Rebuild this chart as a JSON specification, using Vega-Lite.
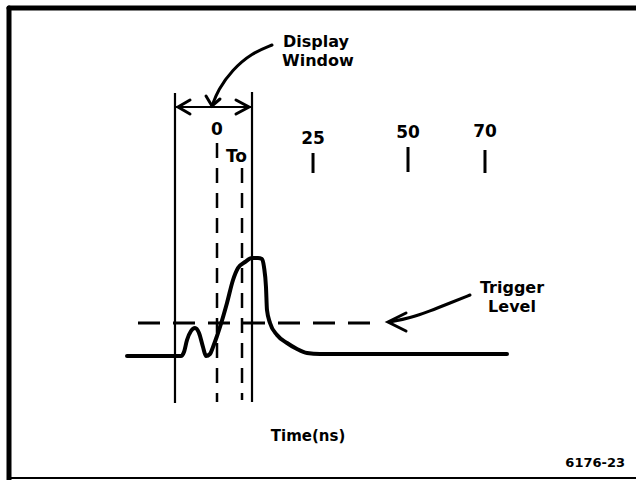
{
  "$schema": "https://vega.github.io/schema/vega-lite/v6.json",
  "width": 636,
  "height": 480,
  "autosize": {"type": "none"},
  "padding": 0,
  "background": "white",
  "config": {"view": {"stroke": null}, "text": {"font": "DejaVu Sans", "fontWeight": "bold", "color": "black"}},
  "datasets": {
    "signal": [
      {"t": -23.5, "a": 0}, {"t": -10.97, "a": 0}, {"t": -9.4, "a": 0}, {"t": -8.62, "a": 0.04},
      {"t": -7.83, "a": 0.16}, {"t": -6.79, "a": 0.25}, {"t": -5.74, "a": 0.28}, {"t": -4.7, "a": 0.23},
      {"t": -3.66, "a": 0.09}, {"t": -2.87, "a": 0}, {"t": -1.83, "a": 0.02}, {"t": -1.04, "a": 0.09},
      {"t": 0, "a": 0.2}, {"t": 0.78, "a": 0.29}, {"t": 2.61, "a": 0.53}, {"t": 4.18, "a": 0.76},
      {"t": 5.48, "a": 0.88}, {"t": 7.31, "a": 0.94}, {"t": 9.14, "a": 0.98}, {"t": 10.7, "a": 0.98},
      {"t": 11.75, "a": 0.97}, {"t": 12.27, "a": 0.89}, {"t": 12.79, "a": 0.69}, {"t": 13.05, "a": 0.46},
      {"t": 13.84, "a": 0.33}, {"t": 15.67, "a": 0.21}, {"t": 18.28, "a": 0.13}, {"t": 20.89, "a": 0.07},
      {"t": 23.5, "a": 0.03}, {"t": 26.89, "a": 0.02}, {"t": 75.72, "a": 0.02}
    ],
    "frameThick": [
      {"t": -54.31, "a": 3.48, "t2": -54.31, "a2": -1.24},
      {"t": -54.31, "a": 3.48, "t2": 109.4, "a2": 3.48}
    ],
    "frameThin": [
      {"t": -54.31, "a": -1.22, "t2": 109.4, "a2": -1.22}
    ],
    "windowEdges": [
      {"t": -10.97, "a": 2.63, "t2": -10.97, "a2": -0.47},
      {"t": 9.14, "a": 2.64, "t2": 9.14, "a2": -0.46},
      {"t": -10.97, "a": 2.49, "t2": 9.14, "a2": 2.49}
    ],
    "dashedLines": [
      {"t": 0, "a": 2.13, "t2": 0, "a2": -0.46},
      {"t": 6.53, "a": 1.88, "t2": 6.53, "a2": -0.44}
    ],
    "trigger": [
      {"t": -20.63, "a": 0.33, "t2": 41.78, "a2": 0.33}
    ],
    "ticks": [
      {"t": 25.07, "a": 2.03, "t2": 25.07, "a2": 1.83},
      {"t": 49.87, "a": 2.09, "t2": 49.87, "a2": 1.84},
      {"t": 69.97, "a": 2.06, "t2": 69.97, "a2": 1.83}
    ],
    "arrows": [
      {"part": "left head", "i": 1, "t": -7.05, "a": 2.56},
      {"part": "left head", "i": 2, "t": -10.18, "a": 2.49},
      {"part": "left head", "i": 3, "t": -7.05, "a": 2.42},
      {"part": "right head", "i": 1, "t": 4.96, "a": 2.56},
      {"part": "right head", "i": 2, "t": 8.36, "a": 2.49},
      {"part": "right head", "i": 3, "t": 4.96, "a": 2.42},
      {"part": "display head", "i": 1, "t": -2.87, "a": 2.6},
      {"part": "display head", "i": 2, "t": -1.31, "a": 2.5},
      {"part": "display head", "i": 3, "t": 0.78, "a": 2.57},
      {"part": "trigger head", "i": 1, "t": 49.35, "a": 0.43},
      {"part": "trigger head", "i": 2, "t": 44.65, "a": 0.34},
      {"part": "trigger head", "i": 3, "t": 49.35, "a": 0.25}
    ],
    "curves": [
      {"part": "display", "i": 1, "t": 14.36, "a": 3.11},
      {"part": "display", "i": 2, "t": 9.14, "a": 3.03},
      {"part": "display", "i": 3, "t": 3.92, "a": 2.86},
      {"part": "display", "i": 4, "t": 0.26, "a": 2.66},
      {"part": "display", "i": 5, "t": -1.31, "a": 2.5},
      {"part": "trigger", "i": 1, "t": 66.06, "a": 0.61},
      {"part": "trigger", "i": 2, "t": 60.84, "a": 0.53},
      {"part": "trigger", "i": 3, "t": 55.61, "a": 0.45},
      {"part": "trigger", "i": 4, "t": 50.39, "a": 0.38},
      {"part": "trigger", "i": 5, "t": 45.17, "a": 0.34}
    ],
    "labelsLeft": [
      {"label": "Display", "t": 17.23, "a": 3.14},
      {"label": "Window", "t": 16.97, "a": 2.95}
    ],
    "labelsNumbers": [
      {"label": "0", "t": 0, "a": 2.26},
      {"label": "To", "t": 5.1, "a": 1.99},
      {"label": "25", "t": 25.07, "a": 2.17},
      {"label": "50", "t": 49.87, "a": 2.23},
      {"label": "70", "t": 69.97, "a": 2.24}
    ],
    "labelsCenter": [
      {"label": "Trigger", "t": 77.02, "a": 0.68},
      {"label": "Level", "t": 77.02, "a": 0.49}
    ],
    "labelTime": [
      {"label": "Time(ns)", "t": 23.76, "a": -0.8}
    ],
    "labelCode": [
      {"label": "6176-23", "t": 106.53, "a": -1.07}
    ]
  },
  "encoding": {
    "x": {"field": "t", "type": "quantitative", "scale": {"domain": [-56.66, 109.4], "nice": false, "zero": false}, "axis": null},
    "y": {"field": "a", "type": "quantitative", "scale": {"domain": [-1.24, 3.56], "nice": false, "zero": false}, "axis": null}
  },
  "layer": [
    {"data": {"name": "frameThick"}, "mark": {"type": "rule", "strokeWidth": 5, "color": "black", "strokeCap": "round"},
     "encoding": {"x2": {"field": "t2"}, "y2": {"field": "a2"}}},
    {"data": {"name": "frameThin"}, "mark": {"type": "rule", "strokeWidth": 2, "color": "black"},
     "encoding": {"x2": {"field": "t2"}, "y2": {"field": "a2"}}},
    {"data": {"name": "windowEdges"}, "mark": {"type": "rule", "strokeWidth": 2.2, "color": "black"},
     "encoding": {"x2": {"field": "t2"}, "y2": {"field": "a2"}}},
    {"data": {"name": "dashedLines"}, "mark": {"type": "rule", "strokeWidth": 2.5, "color": "black", "strokeDash": [15, 10]},
     "encoding": {"x2": {"field": "t2"}, "y2": {"field": "a2"}}},
    {"data": {"name": "trigger"}, "mark": {"type": "rule", "strokeWidth": 3, "color": "black", "strokeDash": [22, 13]},
     "encoding": {"x2": {"field": "t2"}, "y2": {"field": "a2"}}},
    {"data": {"name": "ticks"}, "mark": {"type": "rule", "strokeWidth": 3, "color": "black"},
     "encoding": {"x2": {"field": "t2"}, "y2": {"field": "a2"}}},
    {"data": {"name": "signal"}, "mark": {"type": "line", "strokeWidth": 4, "color": "black", "interpolate": "monotone", "strokeCap": "round", "strokeJoin": "round"},
     "encoding": {}},
    {"data": {"name": "curves"}, "mark": {"type": "line", "strokeWidth": 3, "color": "black", "interpolate": "basis", "strokeCap": "round"},
     "encoding": {"detail": {"field": "part"}, "order": {"field": "i"}}},
    {"data": {"name": "arrows"}, "mark": {"type": "line", "strokeWidth": 3, "color": "black", "strokeJoin": "miter", "strokeCap": "round"},
     "encoding": {"detail": {"field": "part"}, "order": {"field": "i"}}},
    {"data": {"name": "labelsLeft"}, "mark": {"type": "text", "fontSize": 16, "align": "left", "baseline": "middle"},
     "encoding": {"text": {"field": "label"}}},
    {"data": {"name": "labelsNumbers"}, "mark": {"type": "text", "fontSize": 17, "align": "center", "baseline": "middle"},
     "encoding": {"text": {"field": "label"}}},
    {"data": {"name": "labelsCenter"}, "mark": {"type": "text", "fontSize": 16, "align": "center", "baseline": "middle"},
     "encoding": {"text": {"field": "label"}}},
    {"data": {"name": "labelTime"}, "mark": {"type": "text", "fontSize": 15, "align": "center", "baseline": "middle"},
     "encoding": {"text": {"field": "label"}}},
    {"data": {"name": "labelCode"}, "mark": {"type": "text", "fontSize": 13, "align": "right", "baseline": "middle"},
     "encoding": {"text": {"field": "label"}}}
  ]
}
